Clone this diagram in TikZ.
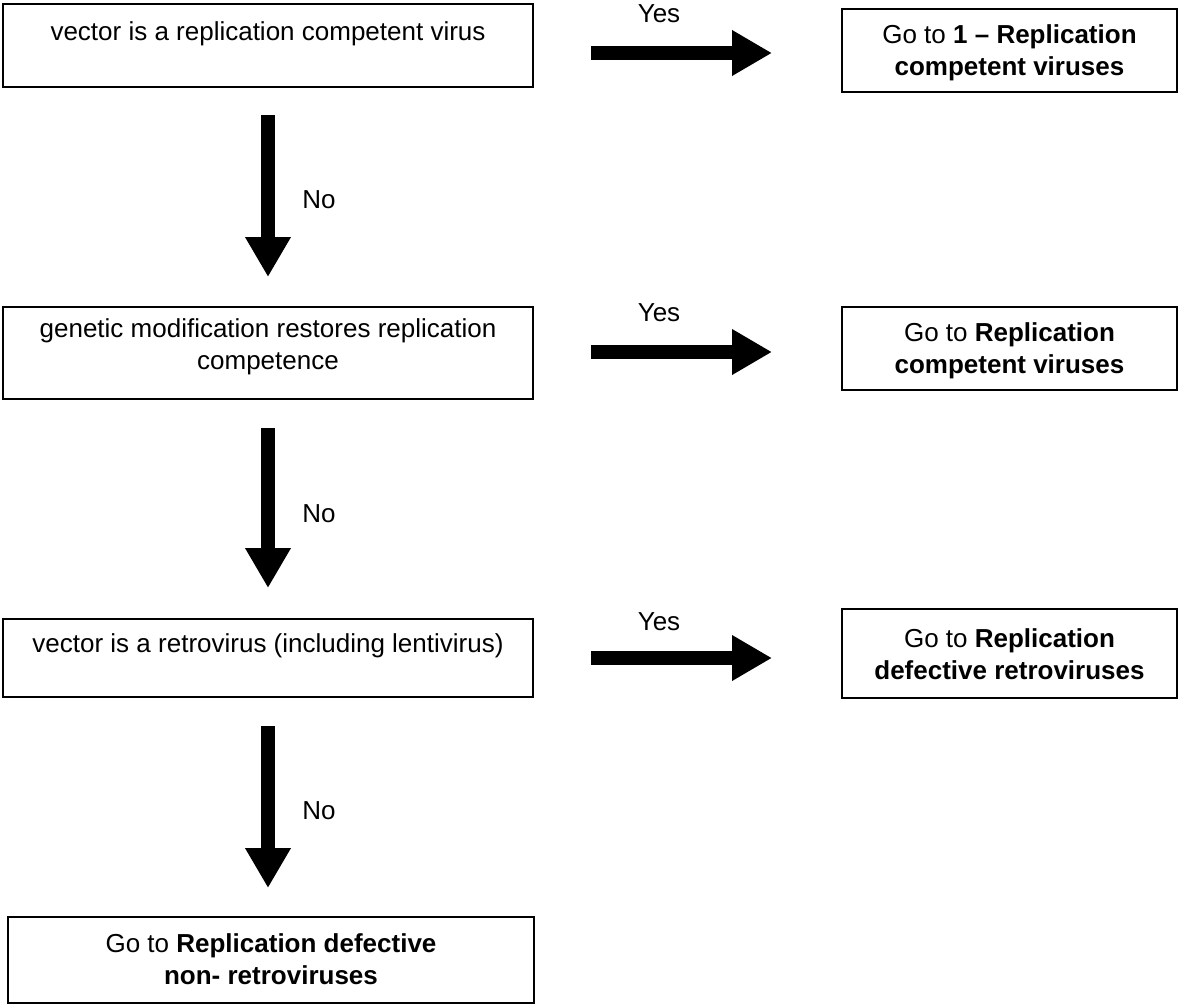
\documentclass[tikz,border=0pt]{standalone}
\usepackage{fontspec}
\setmainfont{Liberation Sans}
\usetikzlibrary{arrows.meta}
\newcommand{\boxtxt}[4]{\parbox[t][#2pt][t]{#1pt}{\centering\vspace*{#3pt}#4}}
\begin{document}
\begin{tikzpicture}[x=1pt,y=-1pt,
  every node/.style={font=\fontsize{26}{32}\selectfont},
  flowbox/.style={draw, line width=1.8pt, inner sep=0pt, outer sep=0pt, anchor=north west},
  fat/.style={line width=14pt, -{Triangle[length=40pt,width=43pt]}},
  lbl/.style={inner sep=0pt}
]
\path[use as bounding box] (0,0) rectangle (1181,1005);

% boxes
\node[flowbox] (b1) at (3,4) {\boxtxt{530}{83}{13.6}{\strut vector is a replication competent virus}};
\node[flowbox] (b2) at (842,9) {\boxtxt{335}{83}{12}{\strut Go to \textbf{1 -- Replication}\\\strut\textbf{competent viruses}}};
\node[flowbox] (b3) at (3,307) {\boxtxt{530}{92}{8}{\strut genetic modification restores replication\\\strut competence}};
\node[flowbox] (b4) at (842,307) {\boxtxt{335}{83}{11.6}{\strut Go to \textbf{Replication}\\\strut\textbf{competent viruses}}};
\node[flowbox] (b5) at (3,619) {\boxtxt{530}{78}{10.6}{\strut vector is a retrovirus (including lentivirus)}};
\node[flowbox] (b6) at (842,609) {\boxtxt{335}{89}{15.6}{\strut Go to \textbf{Replication}\\\strut\textbf{defective retroviruses}}};
\node[flowbox] (b7) at (8,917) {\boxtxt{526}{86}{12.6}{\strut Go to \textbf{Replication defective}\\\strut\textbf{non- retroviruses}}};

% helper coordinates
\coordinate (ax) at (268,0);
\coordinate (ya) at (0,53);
\coordinate (yb) at (0,352);
\coordinate (yc) at (0,658);

% No arrows
\draw[fat, shorten <=28pt, shorten >=30pt] (b1.south -| ax) -- (b3.north -| ax);
\draw[fat, shorten <=29pt, shorten >=31pt] (b3.south -| ax) -- (b5.north -| ax);
\draw[fat, shorten <=29pt, shorten >=29pt] (b5.south -| ax) -- (b7.north -| ax);

% Yes arrows
\draw[fat, shorten <=58pt, shorten >=70pt] (b1.east |- ya) -- (b2.west |- ya);
\draw[fat, shorten <=58pt, shorten >=70pt] (b3.east |- yb) -- (b4.west |- yb);
\draw[fat, shorten <=58pt, shorten >=70pt] (b5.east |- yc) -- (b6.west |- yc);

% labels
\node[lbl] (yes1) at (659,14) {Yes};
\node[lbl] (yes2) at (659,313) {Yes};
\node[lbl] (yes3) at (659,622) {Yes};
\node[lbl] (no1) at (319,200) {No};
\node[lbl] (no2) at (319,514) {No};
\node[lbl] (no3) at (319,811) {No};
\end{tikzpicture}
\end{document}
